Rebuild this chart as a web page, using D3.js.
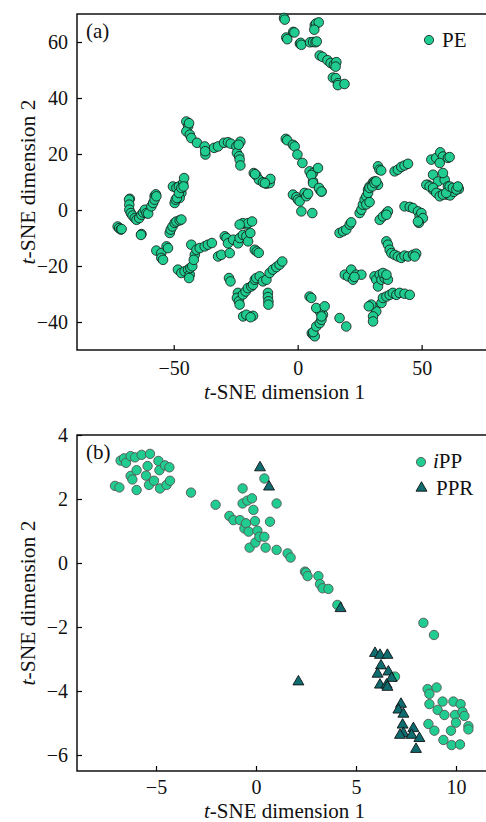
<!DOCTYPE html>
<html>
<head>
<meta charset="utf-8">
<script src="https://cdn.jsdelivr.net/npm/d3@7"></script>
<style>
    body {margin: 0; background: #fff;}
    svg text {font-family: "Liberation Serif", "Times New Roman", serif; fill: #111;}
</style>
</head>
<body>
<div id="chart"></div>
<script>

// panel (a): PE, t-SNE coords
const peData=[
    [-5.5,68.6],[-5.2,68.0],[-4.6,61.6],[-4.2,61],[-1.8,63.6],[-1.3,63.4],[0.9,59.4],[1.2,59.7],[1.5,59],
    [5,59.9],[6.2,60],[7.2,59.9],[7.7,60.2],[6.9,66],[7.4,66.6],[8.5,67],[6.7,64.4],[8.9,55.2],[10,54.7],
    [12,53.5],[13.3,52.5],[14.6,51.8],[15.6,52.8],[15.3,51.2],[14.2,47.3],[15.4,47.1],[16.3,45.3],[16.2,44.6],[18.9,45],
    [-44.9,31.6],[-44.2,29.9],[-44.9,28.1],[-43.5,26.9],[-42.9,25.7],[-40.6,24],[-37.5,22.7],[-37.2,19.8],[-37.3,21],
    [-33.7,22.2],[-32.1,22.7],[-29.7,24],[-28.1,24.2],[-27,23.7],[-24.7,22.7],[-24.5,20.4],[-23.6,19.2],[-23.4,18],
    [-23.1,15.9],[-23.1,24.4],[-23.8,23.3],[-43.8,31.0],
    [-17.7,13.2],[-16.7,12.4],[-15.6,10.8],[-14,9.9],[-12.6,9.4],[-11.3,9.6],[-11,11.1],[-17.2,12.8],[-13.2,9.6],
    [-4.8,25.4],[-4.2,24.9],[-1.9,23.3],[-1.2,22.7],[-0.1,19.8],[1.9,16.8],[4.8,13.8],[6.2,13.2],[8.2,15],
    [6.2,10.2],[8.9,7.3],[9.6,6.6],[5.5,12.5],
    [28.4,7.3],[29,8.4],[30.4,9.9],[31,10.2],[31.7,9.6],[32.4,9],[32.4,15.6],[33,14.4],[33.7,14.1],
    [25,-1.1],[25.7,0.1],[26.3,1.9],[27,3.7],[27.7,4.9],[28.4,6.1],[29,7.9],[30.1,8.4],[31,9.6],[31.7,10.2],
    [27.7,2.0],[29,2.8],
    [39.1,13.8],[40.4,14.4],[41.8,15.4],[43.1,15.9],[44.5,16.5],
    [52.5,9],[54.6,12.6],[53.9,18],[55.9,18.6],[57.5,20.6],[58.6,19.1],[60.6,18.6],[61.3,18.9],[57.3,16.8],
    [56.6,10.2],[59.3,10.8],[58.6,13.2],[60.6,8.4],[62,7.2],[64.6,8.2],[54.6,7.2],[57,5.8],[60,5.5],[61.5,5.2],
    [63,6.5],[65,7.5],
    [51.9,9],[53.2,8.4],[54.6,7.9],[55.9,6.1],[57.3,4.9],[58.6,5.5],[59.9,6.1],[61.3,8.4],[62.6,7.9],[64,7.3],[64.6,8.4],
    [-67.7,4],[-57.7,5],[-57.2,5.6],
    [-50.3,8.4],[-48.9,7.9],[-47.9,8.4],[-46.2,9.6],[-45.8,11.4],[-46.9,6.1],[-47.6,4.3],
    [-49.6,2.5],[-49.2,3.7],[-48.7,4.3],[-47.9,6.1],[-46.9,7.9],[-46,8.4],
    [-72.6,-5.9],[-72.0,-6.5],[-71.3,-7],[-71,-6.8],
    [-68,3.7],[-67.9,1.9],[-67.9,0.1],[-67.3,-1.1],[-66.6,-2],[-65.7,-2.9],[-65,-3.5],[-63.9,-2.9],[-63,-1.7],
    [-62.3,-0.9],[-61.6,0.1],[-61,-1.1],[-60.3,-1.3],[-59,1.3],[-58.3,2.5],[-57.7,3.7],[-57,4.9],[-63,-8.6],[-63.2,-8.9],
    [-57,-14.5],[-55,-15.4],[-55,-17.1],[-54.3,-17.8],[-52.9,-13],[-52.3,-13.6],
    [-51.6,-8.2],[-51.2,-7],[-50.5,-5.9],[-49.6,-4.6],[-48.9,-4.1],[-47.6,-3.7],[-46.9,-3.4],
    [-48.3,-21.3],[-46.9,-22.5],[-45.6,-21.9],[-44.2,-21.3],[-43.5,-23.1],[-43.8,-24.3],[-43.3,-20.7],[-42.5,-20.1],
    [-42.9,-12.4],[-41.5,-16],[-41.9,-17.8],[-40.8,-14.2],[-39.5,-13.6],[-37.5,-13],[-36.2,-12.4],[-34.6,-11.8],
    [-32.1,-16.6],[-30.8,-16],[-29.4,-9.4],[-28.7,-10],[-28.1,-11.9],[-27.4,-15.4],[-26,-10.6],[-24,-11.9],
    [-23.4,-10],[-22.1,-8.9],[-20.7,-9.4],[-20,-11.2],[-19.1,-8.2],[-20.7,-5.2],[-22.1,-4.7],[-20,-4.7],
    [-23.4,-5.2],[-18.4,-4.1],
    [-17.3,-14.2],[-16.5,-14.8],[-15.7,-15.3],
    [-27.7,-24.3],[-27.1,-25.5],
    [-24.1,-29.6],[-24.5,-31.4],[-23.7,-32.6],[-23.4,-33.8],[-22.1,-30.2],[-21,-29.1],[-20.1,-27.9],[-18.7,-27.3],
    [-18,-26.7],[-17.3,-24.9],[-16.7,-24.3],[-15.3,-23.7],[-14,-25.5],[-12.6,-24.9],[-11.3,-22.5],[-10,-21.3],
    [-8.6,-20.4],[-7.3,-19.5],[-6.2,-18.4],
    [-22,-38],[-20.7,-37.4],[-18,-37.8],[-19,-38.3],
    [-12,-29.6],[-12,-31.1],[-11.8,-32.6],[-11.8,-33.8],
    [-1.9,5.5],[-0.5,4.6],[0.1,3.7],[0.8,3.1],[1.5,-0.5],[2.8,6.1],[3.5,4.9],[4.2,5.8],
    [5.9,-1.1],[6.2,9.6],[8.6,7.9],[9.6,6.6],
    [4.8,-30.9],[5.5,-31.4],
    [5.7,-44],[6.2,-44.5],[6.9,-45.1],[6.3,-43.6],
    [7.5,-41.6],[8.9,-40.4],[9.6,-39.2],[10.2,-37.4],[8.9,-36.2],[7.5,-35],[10.9,-34.4],[9.6,-38],
    [16.9,-38.6],[19.6,-41.6],
    [16.9,-8.2],[18.3,-7.6],[19.6,-7],[21,-5.2],[21.6,-4.4],
    [19,-23.1],[20.3,-23.7],[21.6,-21.3],[22.3,-24.9],[23.6,-23.1],[25.7,-23.1],[22.9,-23.9],
    [31,-35],[31.7,-36.2],[30.4,-38],[30.4,-39.8],[29.7,-33.8],[28.7,-34.4],
    [31,-23.7],[31.7,-24.9],[32.4,-27.3],[33.1,-23.1],[33.8,-24.9],[35.1,-24.3],[36.4,-24.9],[34.4,-22.5],[35.8,-23.1],
    [33.1,-3.5],[34.4,-2.3],[35.8,-1.1],[36.4,-0.5],[35.8,-1.7],
    [33.8,-33.2],[34.4,-31.4],[35.8,-30.9],[37.1,-30.3],[38.4,-29.6],[39.8,-30.3],[41.1,-29.6],[43.1,-29.9],[45.2,-30.3],
    [35.8,-11.2],[36.4,-12.4],[37.1,-14.2],[37.8,-15.4],[39.1,-16],[40.4,-16.6],[41.8,-17.1],[43.1,-16.3],
    [44.5,-16.6],[46.5,-16],[47.8,-15.6],[47.2,-16.6],
    [43.1,1.3],[45.2,1.1],[46.5,0.7],[48.5,-0.5],[49.2,-2.3],[49.9,-1.1],[50.5,-2.9],[48.9,-4.6],[48.5,-4.1]
];

// panel (b): iPP and PPR
const ippData=[
    [-7.05,2.41],[-6.83,2.36],[-6.77,3.2],[-6.6,3.27],[-6.5,3.13],[-6.27,3.34],[-6.27,2.72],[-6.18,2.61],
    [-6.05,3.3],[-5.97,2.9],[-5.97,2.28],[-5.72,3.38],[-5.5,2.73],[-5.42,3.03],[-5.35,2.44],[-5.3,3.41],
    [-5.1,2.57],[-4.88,3.19],[-4.83,2.9],[-4.8,2.33],[-4.55,3.05],[-4.47,2.44],[-4.33,2.99],[-4.3,2.57],
    [-3.25,2.2],[-2.02,1.82],[-1.33,1.47],[-1.13,1.34],[-0.8,1.34],[-0.67,2.33],[-0.67,1.86],[-0.58,1.08],
    [-0.5,1.24],[-0.43,1.95],[-0.37,0.98],[-0.32,0.48],[-0.2,2.02],[-0.13,1.66],[-0.05,1.31],[-0.03,0.64],
    [0.07,1.01],[0.17,0.82],[0.42,2.64],[0.42,0.82],[0.48,0.48],[0.7,1.29],[1.03,1.86],[1.03,0.41],
    [1.58,0.3],[1.73,0.17],[2.45,-0.27],[2.5,-0.3],[2.58,-0.41],[3.12,-0.41],[3.2,-0.66],[3.33,-0.79],
    [3.62,-0.81],[4.07,-1.31],[8.37,-1.87],[8.9,-2.25],[6.95,-3.55],
    [8.58,-3.94],[9.03,-3.89],[8.67,-4.09],[8.67,-4.41],[9.33,-4.33],[9.87,-4.33],[10.23,-4.41],[9.08,-4.59],
    [9.42,-4.75],[9.95,-4.75],[10.32,-4.65],[10.42,-4.78],[10.0,-4.99],[10.62,-5.1],[10.62,-5.2],[8.62,-5.03],
    [8.92,-5.24],[9.75,-5.24],[9.37,-5.53],[9.78,-5.69],[10.2,-5.67]
];
const pprData=[
    [0.2,2.98],[0.65,2.38],[4.23,-1.42],[2.12,-3.71],
    [5.95,-2.82],[6.2,-2.88],[6.57,-2.88],[6.25,-3.21],[6.08,-3.47],[6.62,-3.4],[6.78,-3.6],[6.2,-3.81],
    [6.53,-3.81],[6.57,-3.88],[7.25,-4.41],[7.12,-4.59],[7.37,-4.72],[7.33,-5.06],[7.37,-5.32],[7.2,-5.38],
    [7.87,-5.17],[7.78,-5.38],[8.17,-5.48],[8.0,-5.82]
];

const aXTicks=[-50, 0, 50];
const aYTicks=[-40, -20, 0, 20, 40, 60];
const bXTicks=[-5, 0, 5, 10];
const bYTicks=[-6, -4, -2, 0, 2, 4];


const W=486, H=822;
const circleFill="#21cc90";
const triFill="#0f6d70";

const svg=d3.select("#chart").append("svg")
    .attr("width", W)
    .attr("height", H);


function panel (cfg) {
    const g=svg.append("g");
    const x=d3.scaleLinear().domain(cfg.xDomain).range([cfg.left, cfg.right]);
    const y=d3.scaleLinear().domain(cfg.yDomain).range([cfg.bottom, cfg.top]);

    g.append("g")
        .attr("transform", `translate(0,${cfg.bottom})`)
        .call(d3.axisBottom(x).tickValues(cfg.xTicks).tickSizeInner(-5).tickSizeOuter(0).tickPadding(cfg.xPad))
        .call(a => a.select(".domain").remove())
        .call(a => a.selectAll("line").attr("stroke", "#000").attr("stroke-width", 1.2))
        .call(a => a.selectAll("text").style("font-size", "20px").attr("fill", "#111"));

    g.append("g")
        .attr("transform", `translate(${cfg.left},0)`)
        .call(d3.axisLeft(y).tickValues(cfg.yTicks).tickSizeInner(-5).tickSizeOuter(0).tickPadding(9))
        .call(a => a.select(".domain").remove())
        .call(a => a.selectAll("line").attr("stroke", "#000").attr("stroke-width", 1.2))
        .call(a => a.selectAll("text").style("font-size", "20px").attr("fill", "#111"));

    // frame
    g.append("rect")
        .attr("x", cfg.left)
        .attr("y", cfg.top)
        .attr("width", cfg.right-cfg.left+20)
        .attr("height", cfg.bottom-cfg.top)
        .attr("fill", "none")
        .attr("stroke", "#000")
        .attr("stroke-width", 1.4);

    // axis titles
    const xl=g.append("text")
        .attr("x", (cfg.left+W)/2+3)
        .attr("y", cfg.bottom+cfg.xLabelGap)
        .attr("text-anchor", "middle")
        .style("font-size", "21px");
    xl.append("tspan").style("font-style", "italic").text("t");
    xl.append("tspan").text("-SNE dimension 1");

    const yl=g.append("text")
        .attr("transform", `translate(35,${(cfg.top+cfg.bottom)/2}) rotate(-90)`)
        .attr("text-anchor", "middle")
        .style("font-size", "21.5px");
    yl.append("tspan").style("font-style", "italic").text("t");
    yl.append("tspan").text("-SNE dimension 2");

    g.append("text")
        .attr("x", cfg.left+9)
        .attr("y", cfg.top+24)
        .style("font-size", "21px")
        .text(cfg.tag);

    return {g, x, y};
}


// panel (a)
const pa=panel({
    left: 77, right: 498, top: 14, bottom: 350,
    xDomain: [-89, 80.8], yDomain: [-50, 70],
    xTicks: aXTicks, yTicks: aYTicks, tag: "(a)", xLabelGap: 49, xPad: 11
});

pa.g.append("g").selectAll("circle")
    .data(peData)
    .enter().append("circle")
    .attr("cx", d => pa.x(d[0]))
    .attr("cy", d => pa.y(d[1]))
    .attr("r", 4.8)
    .attr("fill", circleFill)
    .attr("stroke", "#111")
    .attr("stroke-width", 0.8);

pa.g.append("circle")
    .attr("cx", 429).attr("cy", 40)
    .attr("r", 4.6)
    .attr("fill", circleFill)
    .attr("stroke", "#111")
    .attr("stroke-width", 0.8);
pa.g.append("text")
    .attr("x", 442).attr("y", 47)
    .style("font-size", "21px")
    .text("PE");


// panel (b)
const pb=panel({
    left: 77, right: 496, top: 435, bottom: 771,
    xDomain: [-8.95, 12], yDomain: [-6.5, 4],
    xTicks: bXTicks, yTicks: bYTicks, tag: "(b)", xLabelGap: 47, xPad: 9
});

pb.g.append("g").selectAll("circle")
    .data(ippData)
    .enter().append("circle")
    .attr("cx", d => pb.x(d[0]))
    .attr("cy", d => pb.y(d[1]))
    .attr("r", 4.7)
    .attr("fill", circleFill)
    .attr("stroke", "#555")
    .attr("stroke-width", 0.9);

const tri=d3.symbol().type(d3.symbolTriangle).size(52);

pb.g.append("g").selectAll("path")
    .data(pprData)
    .enter().append("path")
    .attr("d", tri)
    .attr("transform", d => `translate(${pb.x(d[0])},${pb.y(d[1])})`)
    .attr("fill", triFill)
    .attr("stroke", "#111")
    .attr("stroke-width", 0.9);

pb.g.append("circle")
    .attr("cx", 421).attr("cy", 462)
    .attr("r", 4.6)
    .attr("fill", circleFill)
    .attr("stroke", "#555")
    .attr("stroke-width", 0.9);
const ippLabel=pb.g.append("text")
    .attr("x", 433).attr("y", 468)
    .style("font-size", "21px");
ippLabel.append("tspan").style("font-style", "italic").text("i");
ippLabel.append("tspan").text("PP");

pb.g.append("path")
    .attr("d", tri)
    .attr("transform", "translate(421.5,488)")
    .attr("fill", triFill)
    .attr("stroke", "#111")
    .attr("stroke-width", 0.9);
pb.g.append("text")
    .attr("x", 436).attr("y", 495)
    .style("font-size", "21px")
    .text("PPR");

</script>
</body>
</html>
